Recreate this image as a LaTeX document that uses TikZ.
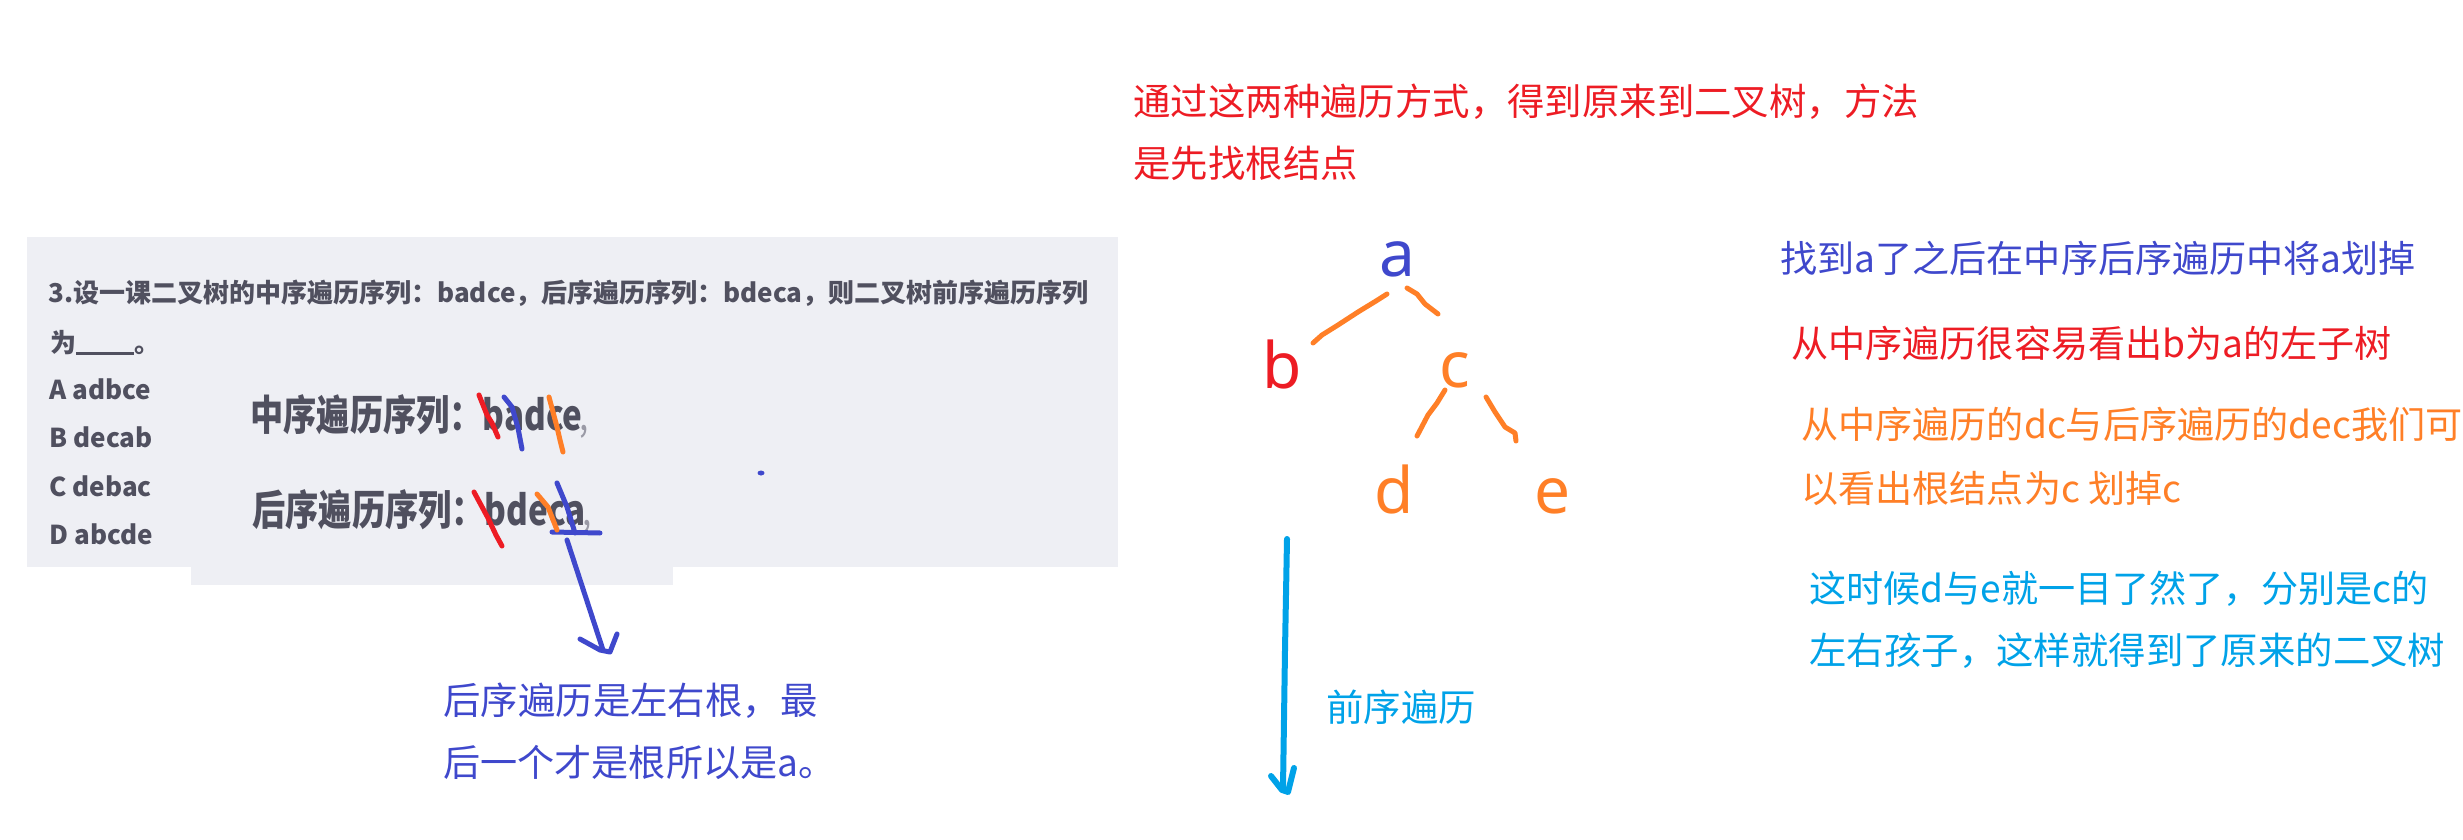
\documentclass[tikz,border=0pt]{standalone}
\usepackage{fontspec}
\usepackage{graphicx}
\setmainfont{Noto Sans CJK SC}
\newfontfamily\latinbig{Noto Sans}
\usetikzlibrary{calc}
\definecolor{pblue}{HTML}{3F48CC}
\definecolor{pred}{HTML}{ED1C24}
\definecolor{porange}{HTML}{FF7F27}
\definecolor{pcyan}{HTML}{00A2E8}
\definecolor{shot}{HTML}{EEEFF4}
\definecolor{shottext}{HTML}{50505F}
\definecolor{shotfaint}{HTML}{9A9AA6}
\newcommand{\faintcomma}{\hspace{-1.5pt}{\mdseries\color{shotfaint},}}
\tikzset{
  note/.style={anchor=base west,inner sep=0pt,font=\fontsize{18.7}{18.7}\selectfont},
  mixnote/.style={anchor=base west,inner sep=0pt,font=\fontsize{18.55}{18.55}\selectfont},
  shotb/.style={anchor=base west,inner sep=0pt,text=shottext,font=\fontsize{13}{13}\selectfont\bfseries},
  shotbig/.style={anchor=base west,inner sep=0pt,text=shottext,font=\fontsize{16.6}{16.6}\selectfont\bfseries},
  letter/.style={anchor=base,inner sep=0pt,font=\latinbig\fontsize{32}{32}\selectfont},
  hand/.style={draw=#1,line width=2.5pt,line cap=round,line join=round},
}
\begin{document}
\begin{tikzpicture}[x=0.5pt,y=-0.5pt]
\useasboundingbox (0,0) rectangle (2463,840);
% screenshot background
\fill[shot] (27,237) rectangle (1118,567);
\fill[shot] (191,567) rectangle (673,585);
% question text
\node[shotb] (q1) at (48,302) {3.设一课二叉树的中序遍历序列：badce，后序遍历序列：bdeca，则二叉树前序遍历序列};
\node[shotb] (q2) at (50,352) {为\rule[-1.5pt]{29pt}{1.5pt}。};
\node[shotb] (oa) at (49,399) {A adbce};
\node[shotb] (ob) at (49,447) {B decab};
\node[shotb] (oc) at (49,496) {C debac};
\node[shotb] (od) at (49,544) {D abcde};
\node[shotbig] (zx) at (250,430) {\scalebox{1}[1.25]{中序遍历序列：badce\faintcomma}};
\node[shotbig] (hx) at (252,525) {\scalebox{1}[1.25]{后序遍历序列：bdeca\faintcomma}};
% strike marks
\draw[hand=pred] (479,395) -- (487,415) -- (492,423) -- (498,437);
\draw[hand=pblue] (504,397) -- (512,407) -- (518,428) -- (522,449);
\draw[hand=porange] (549,397) -- (557,427) -- (560,440) -- (563,452);
\draw[hand=pred] (474,492) -- (488,518) -- (496,535) -- (502,546);
\draw[hand=pblue] (557,483) -- (567,507) -- (575,533);
\draw[hand=pblue] (552,532) -- (600,533);
\draw[hand=porange] (537,494) -- (548,507) -- (557,530);
\fill[pblue] (761,473) ellipse (3.5 and 2.5);
% left explanation
\node[note,text=pblue] (n1) at (443,714) {后序遍历是左右根，最};
\node[mixnote,text=pblue] (n2) at (443,776) {后一个才是根所以是a。};
\coordinate (ls) at (567,540);
\coordinate (le) at (603,650);
\draw[hand=pblue] (ls) -- (le);
\draw[hand=pblue] (580,639) -- (600,650) -- (610,652) -- (617,634);
% top note
\node[note,text=pred] (top1) at (1133,116) {通过这两种遍历方式，得到原来到二叉树，方法};
\node[note,text=pred] (top2) at (1133,177) {是先找根结点};
% tree
\node[letter,text=pblue] (a) at (1397,276) {a};
\node[letter,text=pred] (b) at (1282,388) {b};
\node[letter,text=porange] (c) at (1455,387) {c};
\node[letter,text=porange] (d) at (1394,513) {d};
\node[letter,text=porange] (e) at (1553,513) {e};
\draw[hand=porange] ($(a.base)+(-10,18)$) -- (1376,301) -- (1358,312) -- (1338,325) -- (1322,335) -- ($(b.base)+(31,-45)$);
\draw[hand=porange] ($(a.base)+(10,12)$) -- (1417,294) -- (1425,304) -- ($(c.base)+(-17,-73)$);
\draw[hand=porange] ($(c.base)+(-10,3)$) -- (1437,403) -- (1428,415) -- ($(d.base)+(23,-77)$);
\draw[hand=porange] ($(c.base)+(31,10)$) -- (1495,412) -- (1505,427) -- (1515,433) -- ($(e.base)+(-37,-72)$);
% preorder arrow
\coordinate (ps) at (1287,539);
\coordinate (pe) at (1283,788);
\draw[hand=pcyan,line width=3pt] (ps) -- (1285,650) -- (pe);
\draw[hand=pcyan,line width=3pt] (1271,776) -- (1282,790) -- (1288,792) -- (1294,768);
\node[note,text=pcyan] (qx) at (1326,721) {前序遍历};
% right notes
\node[mixnote,text=pblue] (r1) at (1780,272) {找到a了之后在中序后序遍历中将a划掉};
\node[mixnote,text=pred] (r2) at (1791,357) {从中序遍历很容易看出b为a的左子树};
\node[mixnote,text=porange] (r3) at (1801,438) {从中序遍历的dc与后序遍历的dec我们可};
\node[mixnote,text=porange] (r4) at (1801,502) {以看出根结点为c 划掉c};
\node[mixnote,text=pcyan] (r5) at (1809,602) {这时候d与e就一目了然了，分别是c的};
\node[note,text=pcyan] (r6) at (1809,664) {左右孩子，这样就得到了原来的二叉树};
\end{tikzpicture}
\end{document}
